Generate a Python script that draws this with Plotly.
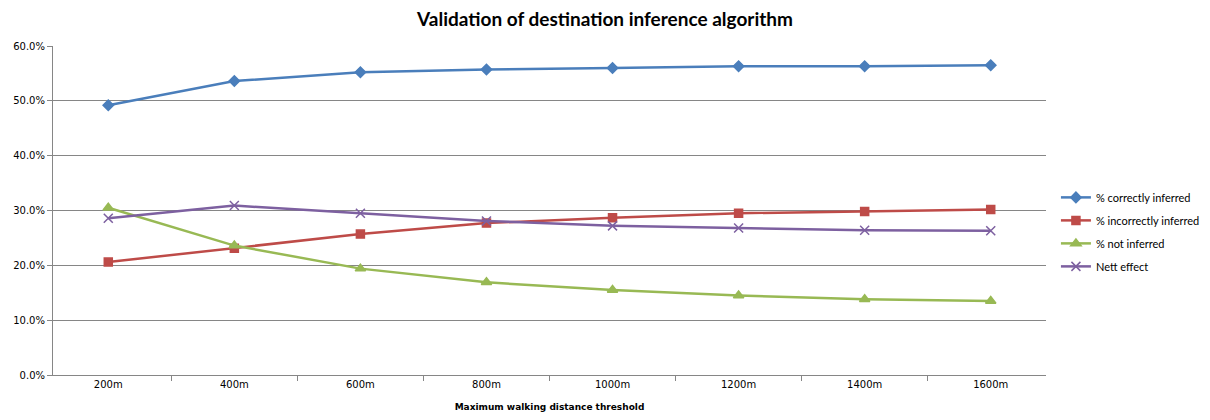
import plotly.graph_objects as go

categories = ["200m", "400m", "600m", "800m", "1000m", "1200m", "1400m", "1600m"]
correctly_inferred = [49.2, 53.6, 55.2, 55.7, 56.0, 56.3, 56.3, 56.5]
incorrectly_inferred = [20.6, 23.1, 25.7, 27.7, 28.7, 29.5, 29.8, 30.2]
not_inferred = [30.5, 23.6, 19.4, 16.9, 15.5, 14.5, 13.8, 13.5]
nett_effect = [28.6, 30.9, 29.5, 28.1, 27.2, 26.8, 26.4, 26.3]

series = [
    ("% correctly inferred", correctly_inferred, "#4A7EBB", "diamond", 8),
    ("% incorrectly inferred", incorrectly_inferred, "#BE4B48", "square", 8),
    ("% not inferred", not_inferred, "#98B954", "triangle-up", 9),
    ("Nett effect", nett_effect, "#7D60A0", "x-thin-open", 9),
]

fig = go.Figure()
for name, vals, color, symbol, size in series:
    fig.add_trace(go.Scatter(
        x=categories, y=vals, name=name, mode="lines+markers",
        legendgroup=name,
        line=dict(color=color, width=2.5),
        marker=dict(symbol=symbol, size=size, color=color,
                    line=dict(color=color, width=1.5)),
    ))

fig.update_layout(
    width=1210, height=420,
    margin=dict(l=53, r=164, t=46, b=45, autoexpand=False),
    paper_bgcolor="white", plot_bgcolor="white",
    title=dict(text="<b>Validation of destination inference algorithm</b>",
               x=0.5, xanchor="center", y=0.955, yanchor="middle",
               font=dict(family="Lato, Open Sans, sans-serif", size=19, color="#000")),
    font=dict(family="DejaVu Sans, Verdana, sans-serif", size=10, color="#000"),
    legend=dict(x=1.01, y=0.435, xanchor="left", yanchor="middle",
                font=dict(family="Lato, Open Sans, sans-serif", size=11),
                tracegroupgap=4, itemwidth=30),
    showlegend=True,
)
fig.update_xaxes(
    type="category", showgrid=False, showline=True, linecolor="#868686", linewidth=1,
    ticks="outside", tickson="boundaries", ticklen=5, tickcolor="#868686",
    title=dict(text="<b>Maximum walking distance threshold</b>",
               font=dict(size=9), standoff=14),
    tickfont=dict(size=10),
)
fig.update_yaxes(
    range=[0, 60], dtick=10, tickformat=".1f", ticksuffix="%",
    showgrid=True, gridcolor="#868686", gridwidth=1,
    showline=True, linecolor="#868686", linewidth=1,
    ticks="outside", ticklen=5, tickcolor="#868686",
    zeroline=False, tickfont=dict(size=10),
)

fig.write_html("out.html")
